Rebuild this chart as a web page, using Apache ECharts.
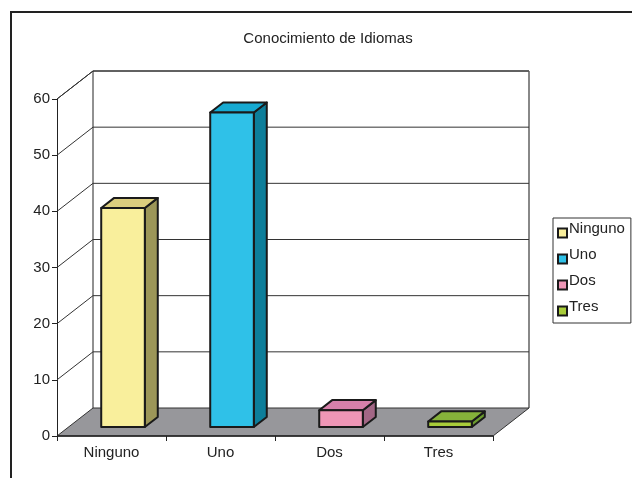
<!DOCTYPE html>
<html>
<head>
<meta charset="utf-8">
<script src="https://cdn.jsdelivr.net/npm/echarts@6/dist/echarts.min.js"></script>
<style>
html,body{margin:0;padding:0;background:#fff;}
#c{width:632px;height:478px;}
</style>
</head>
<body>
<div id="c"></div>
<script>
const titleText = 'Conocimiento de Idiomas';
const categories = ['Ninguno', 'Uno', 'Dos', 'Tres'];
const values = [39, 56, 3, 1];
const yTicks = [0, 10, 20, 30, 40, 50, 60];
const faceColors = ['#F9EF9C', '#2FC1E8', '#EE96B6', '#A9CD3A'];
const topColors = ['#DCCE7E', '#16AAD2', '#D680AA', '#86B23A'];
const sideColors = ['#9C9658', '#0D7E9A', '#A26685', '#6B9B2E'];

const DX = 36, DY = -28;      // depth offset of the 3D box
const F1 = 0.32, F2 = 0.68;   // bar front/back depth fraction
const FONT = 'Liberation Sans, Arial, sans-serif';

const chart = echarts.init(document.getElementById('c'));

function wallItem(params, api) {
  const cs = params.coordSys;
  const v = api.value(1);
  const y = api.coord([0, v])[1];
  const x0 = cs.x, x1 = cs.x + cs.width;
  const children = [];
  if (v === 0) {
    const yTop = cs.y;
    children.push({type:'polyline', shape:{points:[[x0+DX, y+DY],[x0+DX, yTop+DY],[x1+DX, yTop+DY]]}, style:{stroke:'#222', lineWidth:1, fill:null}});
    children.push({type:'line', shape:{x1:x1+DX, y1:yTop+DY, x2:x1+DX, y2:y+DY}, style:{stroke:'#888', lineWidth:2}});
    children.push({type:'line', shape:{x1:x0, y1:yTop, x2:x0+DX, y2:yTop+DY}, style:{stroke:'#222', lineWidth:1}});
    children.push({type:'polygon', shape:{points:[[x0,y],[x1,y],[x1+DX,y+DY],[x0+DX,y+DY]]}, style:{fill:'#97979B', stroke:'#333', lineWidth:1}});
    children.push({type:'line', shape:{x1:x0, y1:y, x2:x1, y2:y}, style:{stroke:'#222', lineWidth:1.5}});
  } else {
    children.push({type:'polyline', shape:{points:[[x0, y],[x0+DX, y+DY],[x1+DX, y+DY]]}, style:{stroke:'#333', lineWidth:1, fill:null}});
  }
  return {type:'group', children};
}

function barItem(idx) {
  return function (params, api) {
    const c = api.value(0);
    const p0 = api.coord([c, 0]);
    const p1 = api.coord([c, api.value(1)]);
    const w = api.size([1, 0])[0] * 0.40;
    const ox1 = DX * F1, oy1 = DY * F1, ox2 = DX * F2, oy2 = DY * F2;
    const xl = p0[0] - w / 2 + ox1, xr = p0[0] + w / 2 + ox1;
    const yb = p0[1] + oy1, yt = p1[1] + oy1;
    const dx = ox2 - ox1, dy = oy2 - oy1;
    const st = {stroke:'#1a1a1a', lineWidth:2, lineJoin:'round'};
    return {type:'group', children:[
      {type:'polygon', shape:{points:[[xr,yb],[xr+dx,yb+dy],[xr+dx,yt+dy],[xr,yt]]}, style:Object.assign({fill:sideColors[idx]}, st)},
      {type:'polygon', shape:{points:[[xl,yt],[xr,yt],[xr+dx,yt+dy],[xl+dx,yt+dy]]}, style:Object.assign({fill:topColors[idx]}, st)},
      {type:'rect', shape:{x:xl, y:yt, width:xr-xl, height:yb-yt}, style:Object.assign({fill:faceColors[idx]}, st)}
    ]};
  };
}

const series = [{
  type:'custom', name:'walls', silent:true,
  renderItem: wallItem,
  data: yTicks.map(v => [0, v]),
  z: 1
}];
categories.forEach((name, i) => {
  series.push({
    type:'custom', name:name,
    renderItem: barItem(i),
    itemStyle:{color:faceColors[i], borderColor:'#1a1a1a', borderWidth:1.5},
    data: [[i, values[i]]],
    z: 5
  });
});

chart.setOption({
  animation:false,
  backgroundColor:'#fff',
  textStyle:{fontFamily:FONT},
  title:{text:titleText, left:323, textAlign:'center', top:26,
    textStyle:{fontSize:15, fontWeight:'normal', color:'#222', fontFamily:FONT}},
  grid:{left:57, top:99, width:436, height:337},
  xAxis:{type:'category', data:categories, boundaryGap:true,
    axisLine:{show:false},
    axisTick:{show:true, length:5, lineStyle:{color:'#222'}},
    axisLabel:{fontSize:15, color:'#222', margin:9}},
  yAxis:{type:'value', min:0, max:60, interval:10,
    axisLine:{show:true, lineStyle:{color:'#222', width:1}},
    axisTick:{show:true, length:5, lineStyle:{color:'#222'}},
    axisLabel:{fontSize:15, color:'#222', margin:7},
    splitLine:{show:false}},
  legend:{orient:'vertical', left:553, top:218, data:categories,
    icon:'rect', itemWidth:9, itemHeight:9, itemGap:2,
    padding:[3,6,0,4], borderColor:'#333', borderWidth:1,
    formatter: '{a|{name}}',
    textStyle:{fontSize:15, color:'#222',
      rich:{a:{fontSize:15, color:'#222', fontFamily:FONT, padding:[0,0,9,-3], lineHeight:16}}}},
  graphic:[{type:'rect', shape:{x:11, y:12, width:640, height:480}, style:{fill:null, stroke:'#222', lineWidth:2}, silent:true}],
  series: series
});
</script>
</body>
</html>
